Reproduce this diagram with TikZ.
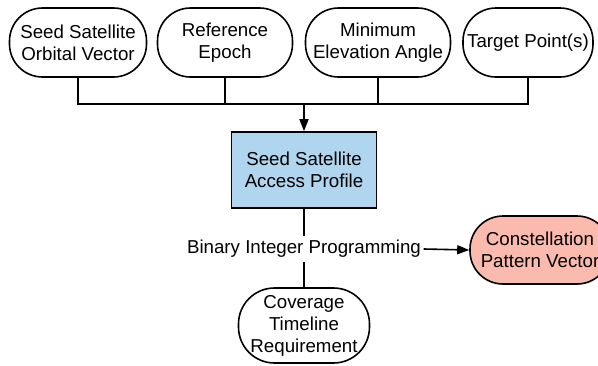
\documentclass[tikz,border=0pt]{standalone}
\usepackage{fontspec}
\setmainfont{Liberation Sans}
\usepackage{xcolor}
\usetikzlibrary{positioning, arrows.meta}
\definecolor{accessblue}{RGB}{176,213,239}
\definecolor{patternred}{RGB}{250,186,174}
\tikzset{
    every picture/.style={line width=1.6pt, >={Triangle[length=12pt,width=9pt]}},   % heavy lines, filled arrow heads
    every node/.style={font=\fontsize{18.7}{22}\selectfont, align=center},
    inputbox/.style={draw, rounded corners=33pt, minimum height=69pt, inner sep=2pt},   % rounded input boxes
    processbox/.style={draw, fill=accessblue, minimum width=145pt, minimum height=76pt},
    outputbox/.style={draw, fill=patternred, rounded corners=33pt, minimum width=140pt, minimum height=68pt},
}

\begin{document}
\begin{tikzpicture}[x=1pt, y=-1pt]
\useasboundingbox (0,0) rectangle (598,365);

\node[inputbox, minimum width=137pt] (orbit) at (78,42.5) {Seed Satellite\\Orbital Vector};
\node[inputbox, minimum width=135pt] (epoch) at (225,42.5) {Reference\\Epoch};
\node[inputbox, minimum width=145pt] (elev) at (378,42.5) {Minimum\\Elevation Angle};
\node[inputbox, minimum width=130pt] (target) at (528,42.5) {Target Point(s)};

\coordinate (bus) at (304,104);

\node[processbox] (access) at (304,170) {Seed Satellite\\Access Profile};
\node[inner sep=2pt, minimum height=25pt] (bip) at (304,249) {Binary Integer Programming};
\node[outputbox] (pattern) at (540,250) {Constellation\\Pattern Vector};
\node[inputbox, minimum width=131pt, minimum height=75pt, rounded corners=36pt] (coverage) at (304,325.5) {Coverage\\Timeline\\Requirement};

% inputs joined on one bus
\draw (orbit.south) |- (bus) -| (target.south);
\draw (epoch.south) -- (epoch.south |- bus);
\draw (elev.south) -- (elev.south |- bus);
\draw[->] (bus) -- (access);

\draw (access) -- (bip);
\draw (bip) -- (coverage);
\draw[->] (bip.east) -- (pattern.west);

\end{tikzpicture}
\end{document}
